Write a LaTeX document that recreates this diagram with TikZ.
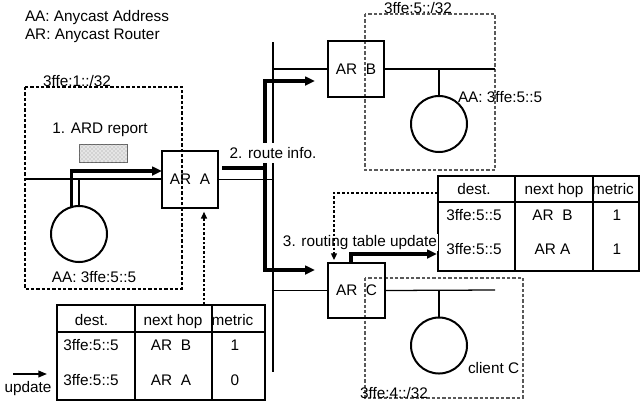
\documentclass[tikz,border=0pt]{standalone}
\usepackage{fontspec}
\setmainfont{Liberation Sans}
\usetikzlibrary{arrows.meta,calc,patterns}
\begin{document}
\begin{tikzpicture}[x=0.75pt,y=-0.75pt,
  every node/.style={font=\fontsize{11.5}{13}\selectfont, inner sep=0pt, outer sep=0pt},
  thinl/.style={line width=0.95pt},
  dbox/.style={line width=0.8pt, dash pattern=on 2.4pt off 1.6pt},
  router/.style={draw, line width=1.6pt, minimum width=42pt, minimum height=42.5pt},
  host/.style={draw, circle, line width=1.5pt, minimum size=42pt},
  thickarr/.style={line width=2.3pt, line join=miter, -{Triangle[length=7.5pt,width=6.5pt]}},
  dotarr/.style={line width=0.9pt, dash pattern=on 2pt off 1.5pt, -{Triangle[length=5pt,width=4.5pt]}},
  updarr/.style={line width=1.3pt, -{Triangle[length=6.5pt,width=5pt]}},
  tbl/.style={draw, line width=1.1pt},
  tline/.style={line width=1.1pt},
  lbl/.style={fill=white, inner xsep=1pt, inner ysep=1pt}
]
\useasboundingbox (0,0) rectangle (641,405);

% legend
\node[anchor=base west] (lg1) at (25,21.7) {AA: Anycast Address};
\node[anchor=base west] (lg2) at (25,39.5) {AR: Anycast Router};

% prefix boxes
\draw[dbox] (25,87) rectangle (182,289);
\draw[dbox, black!65] (365,14) rectangle (495,170);
\draw[dbox, black!65] (365,278) rectangle (523,398);
\node[anchor=base west] (p1) at (43,86) {3ffe:1::/32};
\node[anchor=base west] (p5) at (384,13) {3ffe:5::/32};
\node[anchor=base west] (p4) at (360,398) {3ffe:4::/32};

% routers and hosts
\node[router] (ARA) at (190,179.5) {AR\ \ A};
\node[router] (ARB) at (356,69) {AR\ \ B};
\node[router, minimum width=42.75pt, minimum height=41.25pt] (ARC) at (356.5,290.5) {AR\ \ C};
\node[host] (hA) at (79,234) {};
\node[host] (hB) at (439,124) {};
\node[host] (hC) at (439,345.5) {};

% network lines
\coordinate (lanAw) at (25,179);
\coordinate (bbT) at (273,42);
\coordinate (bbB) at (273,372);
\coordinate (lanBe) at (495,69);
\coordinate (lanCe) at (495,290);
\draw[thinl] (lanAw) -- (lanAw -| ARA.west);
\draw[thinl] (hA.north) -- (hA.north |- lanAw);
\draw[thinl] (ARA.east) -- (ARA.east -| bbT);
\draw[thinl] (bbT) -- (bbB);
\draw[thinl] (ARB.west -| bbT) -- (ARB.west);
\draw[thinl] (ARB.east) -- (lanBe);
\draw[thinl] (hB.north) -- (hB.north |- lanBe);
\draw[thinl] (ARC.west -| bbT) -- (ARC.west);
\draw[thinl] (ARC.east) -- (lanCe);
\draw[thinl] (hC.north) -- (hC.north |- lanCe);

% host labels
\node[anchor=base] (aaA) at (94,282.5) {AA: 3ffe:5::5};
\node[anchor=base west] (aaB) at (458,102) {AA: 3ffe:5::5};
\node[anchor=base west] (cl) at (468,373.5) {client C};

% ARD report
\node[anchor=base] (l1) at (100,133.5) {1. ARD report};
\node[draw, line width=0.5pt, draw=gray!80!black, fill=gray!20,
      postaction={pattern=crosshatch dots, pattern color=gray!80},
      minimum width=36pt, minimum height=13.5pt] (pkt) at (103,153) {};

% thick arrows
\draw[thickarr] (hA.106.6) |- ($(ARA.west)+(0,-8.5)$);
\draw[thickarr] ($(ARA.east)+(4,-11.5)$) -| ($(ARB.west)+(-63,12)$) -- ($(ARB.west)+(-13,12)$);
\draw[thickarr] ($(ARA.east)+(4,-11.5)$) -| ($(ARC.west)+(-63,-20.5)$) -- ($(ARC.west)+(-13,-20.5)$);
\node[lbl, anchor=base, inner ysep=3pt] (l2) at (273,158.5) {2. route info.};

% right table
\node[tbl, minimum width=150.75pt, minimum height=71.25pt] (tR) at (538.5,223.5) {};
\draw[tline] (438,202) -- (639,202);
\draw[tline] (515,176) -- (515,271);
\draw[tline] (593,176) -- (593,271);
\node[anchor=base] (r11) at (474,194.5) {dest.};
\node[anchor=base] (r12) at (554,194.5) {next hop};
\node[anchor=base] (r13) at (613,194.5) {metric};
\node[anchor=base] (r21) at (474,220) {3ffe:5::5};
\node[anchor=base] (r22) at (552.5,220) {AR\ \ B};
\node[anchor=base] (r23) at (617,220) {1};
\node[anchor=base] (r31) at (474,254.5) {3ffe:5::5};
\node[anchor=base] (r32) at (552.5,254.5) {AR A};
\node[anchor=base] (r33) at (617,254.5) {1};

\node[lbl, anchor=base] (l3) at (360,246) {3. routing table update};
\draw[thickarr] ($(ARC.north)+(-5.5,0)$) |- ($(tR.west)+(-1,30.5)$);
\draw[dotarr] ($(tR.west)+(0,-30.5)$) -| ($(ARC.north)+(-22.5,-3)$);

% bottom table
\node[tbl, minimum width=156pt, minimum height=71.25pt] (tB) at (161,352.5) {};
\draw[tline] (57,332) -- (265,332);
\draw[tline] (135,305) -- (135,400);
\draw[tline] (212,305) -- (212,400);
\node[anchor=base] (b11) at (91.5,325) {dest.};
\node[anchor=base] (b12) at (173,325) {next hop};
\node[anchor=base] (b13) at (232.5,325) {metric};
\node[anchor=base] (b21) at (91,350) {3ffe:5::5};
\node[anchor=base] (b22) at (171,350) {AR\ \ B};
\node[anchor=base] (b23) at (235,350) {1};
\node[anchor=base] (b31) at (91,385) {3ffe:5::5};
\node[anchor=base] (b32) at (171,385) {AR\ \ A};
\node[anchor=base] (b33) at (235,385) {0};
\draw[dotarr] ($(tB.north west)+(147,0)$) -- ($(ARA.south)+(14,4)$);

% update
\node[anchor=base] (upd) at (28,392) {update};
\coordinate (updS) at (13,374);
\draw[updarr, shorten >=7.5pt] (updS) -- (updS -| tB.west);
\end{tikzpicture}
\end{document}
